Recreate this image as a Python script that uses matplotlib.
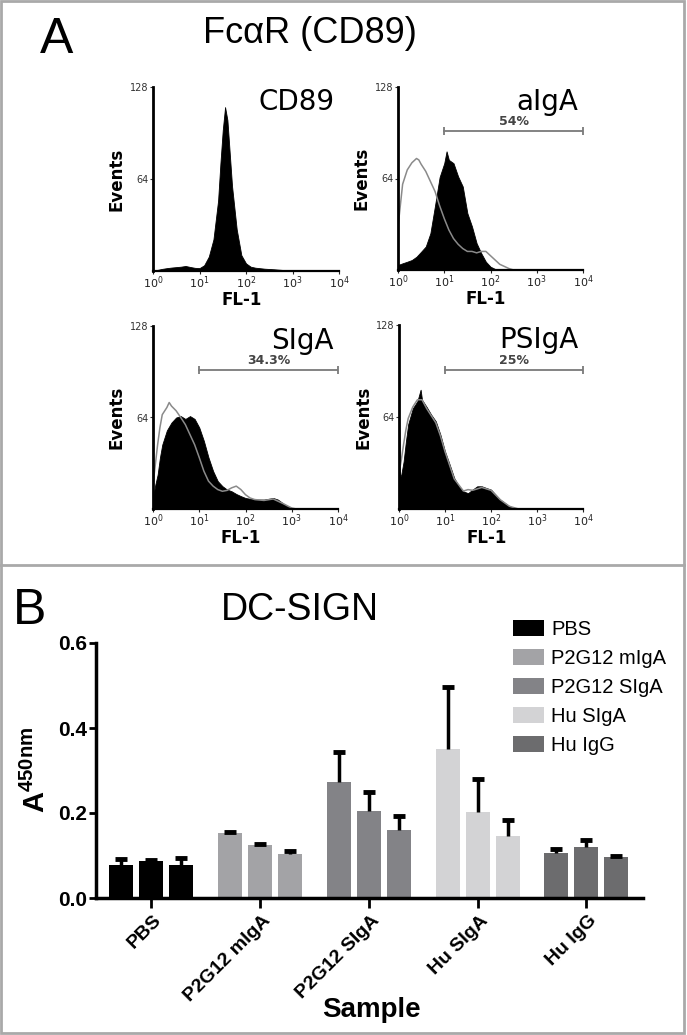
import numpy as np
import matplotlib.pyplot as plt
import matplotlib.transforms as mtransforms
from matplotlib.patches import Rectangle, Patch
from matplotlib.lines import Line2D
from matplotlib.ticker import NullLocator

plt.rcParams['mathtext.fontset'] = 'custom'
plt.rcParams['mathtext.rm'] = 'DejaVu Sans'
plt.rcParams['mathtext.bf'] = 'Liberation Sans:bold'
plt.rcParams['mathtext.default'] = 'rm'

# ---- panel A: flow cytometry histograms (log10 FL-1, events) ----
cd89_log = [0.0, 0.1, 0.2, 0.3, 0.4, 0.5, 0.6, 0.7, 0.8, 0.9, 1.0, 1.1, 1.2, 1.3, 1.4, 1.45,
            1.5, 1.55, 1.6, 1.65, 1.7, 1.8, 1.9, 2.0, 2.1, 2.2, 2.4, 2.6, 2.8, 3.0, 3.2, 4.0]
cd89_cnt = [0.5, 0.8, 1.5, 2.0, 2.4, 2.7, 3.0, 3.5, 2.8, 2.2, 2.0, 4, 10, 22, 49, 75,
            98, 114, 105, 82, 59, 29, 11, 5.3, 3, 2.3, 1.6, 1.2, 0.7, 0.2, 0, 0]

aiga_log = [0.0, 0.1, 0.2, 0.3, 0.4, 0.5, 0.6, 0.7, 0.8, 0.9, 1.0, 1.05, 1.1, 1.2, 1.3, 1.4,
            1.5, 1.6, 1.7, 1.8, 1.9, 2.0, 2.1, 2.2, 4.0]
aiga_cnt = [3.5, 4.7, 5.8, 7, 9.3, 12.8, 16.4, 25.7, 45, 65, 74.7, 83, 77, 74.7, 65.4, 58.4,
            39.7, 30.4, 18.7, 11.7, 5.8, 2.3, 0.7, 0, 0]
aiga_ctl_log = [0.0, 0.05, 0.1, 0.2, 0.3, 0.4, 0.45, 0.5, 0.6, 0.7, 0.8, 0.9, 1.0, 1.1, 1.2, 1.3,
                1.4, 1.5, 1.6, 1.7, 1.8, 1.9, 2.0, 2.1, 2.2, 2.3, 2.4, 2.5, 4.0]
aiga_ctl_cnt = [30, 45, 60, 70, 75, 78, 77, 74, 69, 62, 55, 45, 36, 28, 22, 18,
                15, 13, 13, 12, 13, 13, 10, 7, 4, 2.5, 1, 0, 0]

siga_log = [0.0, 0.05, 0.1, 0.15, 0.2, 0.3, 0.4, 0.5, 0.6, 0.7, 0.8, 0.9, 1.0, 1.1, 1.2, 1.3,
            1.4, 1.5, 1.6, 1.7, 1.8, 1.9, 2.0, 2.2, 2.4, 2.6, 2.7, 2.8, 2.9, 3.0, 3.1, 4.0]
siga_cnt = [7.7, 17, 24, 36, 45, 55, 60.5, 64, 65, 63, 65, 63, 57, 47.6, 36, 26.5,
            19.5, 16, 13.6, 12.4, 10.5, 9, 7.7, 6.6, 6.6, 7.7, 6.6, 4.2, 1.9, 0.7, 0, 0]
siga_ctl_log = [0.0, 0.05, 0.1, 0.15, 0.2, 0.3, 0.35, 0.4, 0.5, 0.6, 0.7, 0.8, 0.9, 1.0, 1.1, 1.2,
                1.3, 1.4, 1.5, 1.6, 1.7, 1.8, 1.9, 2.0, 2.1, 2.2, 2.4, 2.6, 2.8, 3.0, 3.1, 4.0]
siga_ctl_cnt = [17, 31, 45, 57, 66, 71, 74.5, 72, 68.7, 64, 59, 52, 45, 36, 26.5, 19.5,
                16, 13.6, 12.4, 13, 14.8, 16, 13.6, 10, 7.7, 6.6, 6, 7, 4, 0.7, 0, 0]

psiga_log = [0.0, 0.02, 0.05, 0.1, 0.15, 0.2, 0.3, 0.4, 0.47, 0.5, 0.6, 0.7, 0.8, 0.9, 1.0, 1.1,
             1.2, 1.3, 1.4, 1.5, 1.6, 1.7, 1.8, 1.9, 2.0, 2.1, 2.2, 2.3, 2.4, 2.5, 2.6, 4.0]
psiga_cnt = [70, 22, 24, 33, 47, 59, 70, 75, 83, 76, 71, 65.6, 61, 51.7, 40, 31,
             21.6, 15.8, 12.3, 11, 13.5, 15.8, 15.8, 14.6, 13.5, 10, 6.5, 4.2, 1.9, 0.7, 0, 0]
psiga_ctl_log = [0.0, 0.05, 0.1, 0.15, 0.2, 0.3, 0.4, 0.5, 0.6, 0.7, 0.8, 0.9, 1.0, 1.2, 1.4, 1.5,
                 1.6, 1.8, 2.0, 2.2, 2.4, 2.6, 4.0]
psiga_ctl_cnt = [25, 34, 45, 55, 63, 71, 76, 76, 70, 65, 60, 51, 40, 21, 12.5, 13.5,
                 13, 15, 13, 6.5, 1.9, 0, 0]

hist_titles = ['CD89', 'aIgA', 'SIgA', 'PSIgA']
gate_labels = [None, '54%', '34.3%', '25%']
decade_labels = [r'$10^{0}$', r'$10^{1}$', r'$10^{2}$', r'$10^{3}$', r'$10^{4}$']

# ---- panel B: DC-SIGN ELISA ----
samples = ['PBS', 'P2G12 mIgA', 'P2G12 SIgA', 'Hu SIgA', 'Hu IgG']
sample_colors = ['#000000', '#a3a3a6', '#838387', '#d3d3d5', '#6c6c6e']
mean_pbs = [0.078, 0.087, 0.078]
mean_migA = [0.152, 0.125, 0.103]
mean_p2siga = [0.274, 0.205, 0.160]
mean_husiga = [0.351, 0.202, 0.147]
mean_huigg = [0.107, 0.121, 0.096]
err_pbs = [0.014, 0.002, 0.017]
err_migA = [0.004, 0.003, 0.007]
err_p2siga = [0.070, 0.044, 0.034]
err_husiga = [0.146, 0.077, 0.036]
err_huigg = [0.008, 0.015, 0.003]

W, H = 687, 1035


def fx(x):
    return x / W


def fy(y):
    return 1 - y / H


def add_axes_px(fig, l, t, r, b):
    return fig.add_axes([fx(l), fy(b), (r - l) / W, (b - t) / H])


fig = plt.figure(figsize=(W / 100, H / 100), dpi=100)

# frame + divider
fig.add_artist(Rectangle((fx(1), fy(1033)), (684 - 1) / W, (1033 - 1) / H,
                         transform=fig.transFigure, fill=False, ec='#a9a9a9', lw=2))
fig.add_artist(Line2D([fx(1), fx(684)], [fy(565), fy(565)], transform=fig.transFigure,
                      color='#a9a9a9', lw=2))

fig.text(fx(40), fy(53), 'A', fontsize=36, family='Liberation Sans', va='baseline', ha='left')
fig.text(fx(310), fy(43), 'FcαR (CD89)', fontsize=26, family='Liberation Sans',
         va='baseline', ha='center')

hist_boxes = [(153, 87, 339, 271), (398, 87, 583, 270), (153, 326, 338, 509), (399, 325, 583, 509)]
filled = [(cd89_log, cd89_cnt), (aiga_log, aiga_cnt), (siga_log, siga_cnt), (psiga_log, psiga_cnt)]
controls = [None, (aiga_ctl_log, aiga_ctl_cnt), (siga_ctl_log, siga_ctl_cnt),
            (psiga_ctl_log, psiga_ctl_cnt)]

for i in range(4):
    ax = add_axes_px(fig, *hist_boxes[i])
    lx, cnt = filled[i]
    ax.fill_between(10 ** np.array(lx), cnt, color='black', lw=0.6, ec='black')
    if controls[i] is not None:
        ox, ocnt = controls[i]
        ax.plot(10 ** np.array(ox), ocnt, color='#8a8a8a', lw=1.1)
    ax.set_xscale('log')
    ax.set_xlim(1, 1e4)
    ax.set_ylim(0, 128)
    ax.set_xticks([1, 10, 100, 1000, 10000])
    ax.set_xticklabels(decade_labels)
    ax.xaxis.set_minor_locator(NullLocator())
    ax.set_yticks([64, 128])
    ax.tick_params(axis='x', labelsize=8, length=2, pad=0.5, colors='#222222')
    ax.tick_params(axis='y', labelsize=7, length=2, pad=1, colors='#333333')
    for s in ['top', 'right']:
        ax.spines[s].set_visible(False)
    ax.spines['left'].set_linewidth(2)
    ax.spines['bottom'].set_linewidth(1.6)
    ax.text(0.975, 0.995, hist_titles[i], transform=ax.transAxes, ha='right', va='top',
            fontsize=20, family='DejaVu Sans')
    ax.text(-0.195, 0.5, 'Events', transform=ax.transAxes, rotation=90, ha='center', va='center',
            fontsize=12, fontweight='bold', family='DejaVu Sans')
    ax.text(0.475, -0.16, 'FL-1', transform=ax.transAxes, ha='center', va='center',
            fontsize=12, fontweight='bold', family='DejaVu Sans')
    if gate_labels[i]:
        ax.plot([10, 1e4], [97, 97], color='#7a7a7a', lw=1.3, marker='|', ms=6, mew=1.3)
        ax.text(10 ** 2.5, 99, gate_labels[i], ha='center', va='bottom', fontsize=9,
                fontweight='bold', color='#444444', family='DejaVu Sans')

# ---- panel B ----
fig.text(fx(13), fy(624), 'B', fontsize=36, family='Liberation Sans', va='baseline', ha='left')
fig.text(fx(300), fy(620), 'DC-SIGN', fontsize=27, family='Liberation Sans',
         va='baseline', ha='center')

axb = add_axes_px(fig, 96.4, 643, 643, 898)
means = [mean_pbs, mean_migA, mean_p2siga, mean_husiga, mean_huigg]
errs = [err_pbs, err_migA, err_p2siga, err_husiga, err_huigg]
offsets = [-0.276, 0.0, 0.276]
bw = 0.22
for g in range(len(samples)):
    xs = g + np.array(offsets)
    axb.bar(xs, means[g], width=bw, color=sample_colors[g], lw=0, zorder=2)
    axb.errorbar(xs, means[g], yerr=[np.zeros(3), errs[g]], fmt='none', ecolor='black',
                 elinewidth=2.5, capsize=0, zorder=3)
    axb.plot(xs, np.array(means[g]) + np.array(errs[g]), ls='none', marker='_', ms=9, mew=3.5,
             color='black', zorder=3)

axb.set_xlim(-0.504, 4.52)
axb.set_ylim(0, 0.6)
axb.set_yticks([0, 0.2, 0.4, 0.6])
axb.set_yticklabels(['0.0', '0.2', '0.4', '0.6'], fontsize=15, fontweight='bold',
                    family='Liberation Sans')
axb.set_xticks(range(len(samples)))
axb.set_xticklabels(samples, rotation=45, ha='right', va='top', fontsize=14, fontweight='bold',
                    family='Liberation Sans')
axb.tick_params(axis='x', length=7, width=2, pad=3)
axb.tick_params(axis='y', length=5, width=2, pad=2)
shift = mtransforms.ScaledTranslation(14 / 100, 0, fig.dpi_scale_trans)
for lab in axb.get_xticklabels():
    lab.set_transform(lab.get_transform() + shift)
for s in ['top', 'right']:
    axb.spines[s].set_visible(False)
for s in ['left', 'bottom']:
    axb.spines[s].set_linewidth(2.5)

fig.text(fx(36), fy(770), r'$\mathbf{A^{450nm}}$', rotation=90, ha='center', va='center',
         fontsize=21)
fig.text(fx(371), fy(1010), 'Sample', ha='center', va='center', fontsize=20, fontweight='bold',
         family='Liberation Sans')

handles = [Patch(facecolor=c, edgecolor='none') for c in sample_colors]
fig.legend(handles, samples, loc='upper left', bbox_to_anchor=(fx(513), fy(620)),
           frameon=False, borderpad=0, borderaxespad=0, handlelength=1.55, handleheight=0.85,
           handletextpad=0.35, labelspacing=0.5, prop={'family': 'Liberation Sans', 'size': 14.5})

fig.savefig('out.png', dpi=100)
